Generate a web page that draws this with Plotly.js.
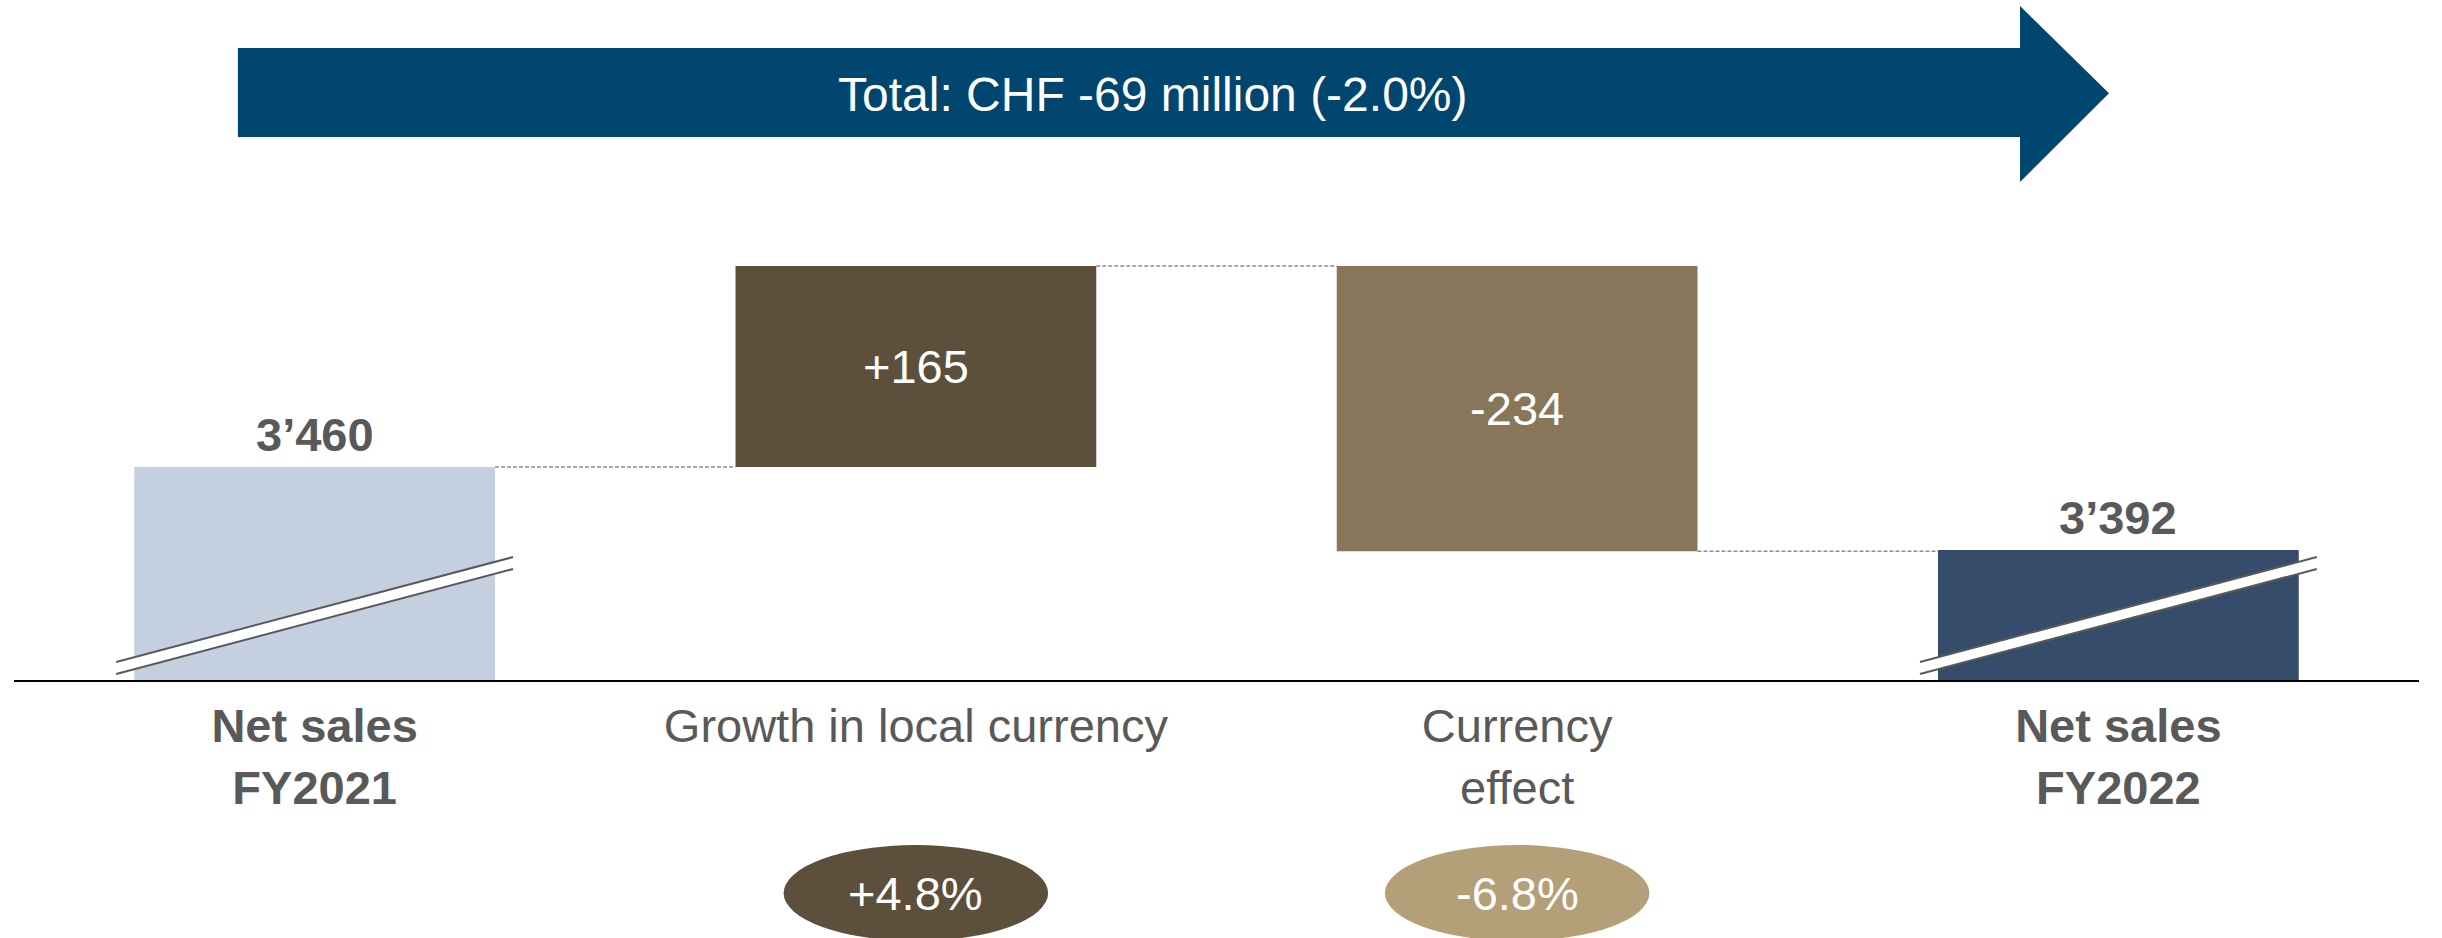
<!DOCTYPE html>
<html><head><meta charset="utf-8">
<script src="https://cdn.plot.ly/plotly-3.0.1.min.js"></script>
<style>html,body{margin:0;padding:0;background:#fff;} #chart{width:2442px;height:938px;}</style>
</head><body><div id="chart"></div>
<script>
// ---- data ----
const categories = ["Net sales FY2021", "Growth in local currency", "Currency effect", "Net sales FY2022"];
const tickLabels = ["<b>Net sales<br>FY2021</b>", "Growth in local currency", "Currency<br>effect", "<b>Net sales<br>FY2022</b>"];
const measures = ["absolute", "relative", "relative", "total"];
const values = [3460, 165, -234, 3392];
const valueLabels = ["3’460", "+165", "-234", "3’392"];
const barColors = ["#C4CFE0", "#5C503C", "#877659", "#364C6B"];
const pctCategories = ["Growth in local currency", "Currency effect"];
const pctLabels = ["+4.8%", "-6.8%"];
const pctColors = ["#5C503C", "#B4A078"];
const totalText = "Total: CHF -69 million (-2.0%)";

// ---- build bars ----
const FONT = "Liberation Sans, Arial, sans-serif";
const GRAY = "#595959";
const bases = [], heights = [], levels = [], insideText = [];
let running = 0;
values.forEach((v, i) => {
  if (measures[i] === "relative") { bases.push(running); heights.push(v); running += v; insideText.push(valueLabels[i]); }
  else { bases.push(0); heights.push(v); running = v; insideText.push(""); }
  levels.push(running);
});

const barWidth = 0.6;
const trace = {
  type: "bar", x: categories, y: heights, base: bases, width: barWidth,
  marker: {color: barColors, line: {width: 0}},
  text: insideText, textposition: "inside", insidetextanchor: "middle",
  constraintext: "none",
  insidetextfont: {family: FONT, size: 47, color: "#FFFFFF"},
  hoverinfo: "skip", showlegend: false
};

const shapes = [];
const annotations = [];
// connectors
for (let i = 0; i < categories.length - 1; i++) {
  shapes.push({type: "line", xref: "x", yref: "y",
    x0: i + barWidth / 2, x1: i + 1 - barWidth / 2, y0: levels[i], y1: levels[i],
    line: {color: "#8C8C8C", width: 1.5, dash: "4px,2px"}, layer: "below"});
}
// outside labels for totals + break marks
values.forEach((v, i) => {
  if (measures[i] !== "relative") {
    annotations.push({x: categories[i], y: v, xref: "x", yref: "y", text: "<b>" + valueLabels[i] + "</b>",
      showarrow: false, yanchor: "bottom", yshift: 4, font: {family: FONT, size: 47, color: GRAY}});
    const xa = i - 0.33, xb = i + 0.33;
    shapes.push({type: "line", xref: "x", yref: "paper", x0: xa, x1: xb, y0: 0.0226, y1: 0.2208,
      line: {color: "#FFFFFF", width: 11}});
    shapes.push({type: "line", xref: "x", yref: "paper", x0: xa, x1: xb, y0: 0.034, y1: 0.232,
      line: {color: GRAY, width: 2}});
    shapes.push({type: "line", xref: "x", yref: "paper", x0: xa, x1: xb, y0: 0.0113, y1: 0.2094,
      line: {color: GRAY, width: 2}});
  }
});
// percentage ellipses
pctCategories.forEach((c, k) => {
  const idx = categories.indexOf(c);
  shapes.push({type: "circle", xref: "x", yref: "paper", x0: idx - 0.22, x1: idx + 0.22,
    y0: -0.4925, y1: -0.3113, fillcolor: pctColors[k], line: {width: 0}});
  annotations.push({x: idx, y: -0.4019, xref: "x", yref: "paper", text: pctLabels[k], showarrow: false,
    xanchor: "center", yanchor: "middle", font: {family: FONT, size: 47, color: "#FFFFFF"}});
});
// big arrow
shapes.push({type: "path", xref: "paper", yref: "paper",
  path: "M0.0931,1.1925 L0.8341,1.1925 L0.8341,1.2717 L0.8711,1.107 L0.8341,0.9396 L0.8341,1.0245 L0.0931,1.0245 Z",
  fillcolor: "#00466E", line: {width: 0}});
annotations.push({x: 0.4732, y: 1.1038, xref: "paper", yref: "paper", text: totalText, showarrow: false,
  xanchor: "center", yanchor: "middle", font: {family: FONT, size: 48, color: "#FFFFFF"}});

const layout = {
  width: 2442, height: 938,
  margin: {l: 14, r: 23, t: 150, b: 258, pad: 0},
  paper_bgcolor: "#FFFFFF", plot_bgcolor: "#FFFFFF",
  font: {family: FONT, color: GRAY},
  showlegend: false,
  xaxis: {type: "category", categoryorder: "array", categoryarray: categories,
    tickvals: categories, ticktext: tickLabels, range: [-0.5, categories.length - 0.5],
    showline: true, linecolor: "#000000", linewidth: 2, ticks: "", showgrid: false, zeroline: false,
    ticklabelstandoff: 4,
    tickfont: {family: FONT, size: 47, color: GRAY}, fixedrange: true},
  yaxis: {range: [3285.3, 3720.1], visible: false, showgrid: false, zeroline: false, fixedrange: true},
  shapes: shapes, annotations: annotations
};

Plotly.newPlot("chart", [trace], layout, {displayModeBar: false, staticPlot: true});
</script>
</body></html>
